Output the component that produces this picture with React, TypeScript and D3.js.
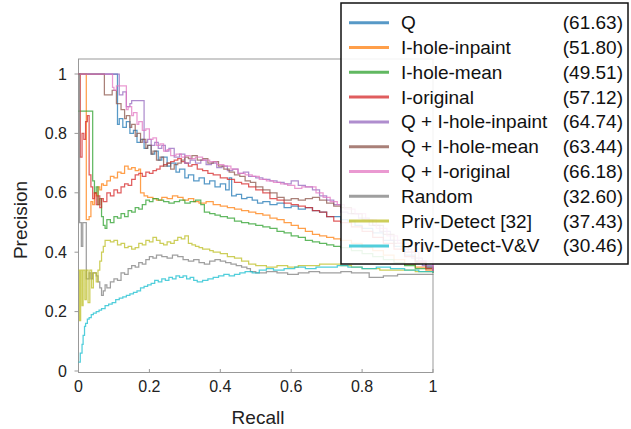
import React from "react";
import * as d3 from "d3";

type P = [number, number];

const seriesNames = [
  "Q",
  "I-hole-inpaint",
  "I-hole-mean",
  "I-original",
  "Q + I-hole-inpaint",
  "Q + I-hole-mean",
  "Q + I-original",
  "Random",
  "Priv-Detect [32]",
  "Priv-Detect-V&V",
];
const apValues = ["(61.63)", "(51.80)", "(49.51)", "(57.12)", "(64.74)", "(63.44)", "(66.18)", "(32.60)", "(37.43)", "(30.46)"];
const colors = ["#1f77b4", "#ff7f0e", "#2ca02c", "#d62728", "#9467bd", "#8c564b", "#e377c2", "#7f7f7f", "#bcbd22", "#17becf"];

const xTicks = [0, 0.2, 0.4, 0.6, 0.8, 1];
const yTicks = [0, 0.2, 0.4, 0.6, 0.8, 1];

const qData: P[] = [[0,1],[0.11,0.83],[0.115,0.85],[0.125,0.82],[0.135,0.84],[0.145,0.80],[0.155,0.81],[0.165,0.77],[0.175,0.78],[0.185,0.75],[0.195,0.76],[0.205,0.73],[0.215,0.74],[0.225,0.71],[0.235,0.72],[0.25,0.69],[0.26,0.70],[0.275,0.67],[0.285,0.68],[0.30,0.65],[0.31,0.66],[0.325,0.64],[0.34,0.65],[0.355,0.63],[0.37,0.64],[0.385,0.62],[0.40,0.63],[0.415,0.61],[0.425,0.65],[0.432,0.59],[0.445,0.595],[0.46,0.58],[0.475,0.585],[0.49,0.575],[0.505,0.565],[0.52,0.57],[0.54,0.56],[0.56,0.565],[0.58,0.55],[0.60,0.555],[0.62,0.545],[0.64,0.55],[0.66,0.54],[0.68,0.535],[0.70,0.52],[0.72,0.52],[0.74,0.51],[0.76,0.505],[0.78,0.49],[0.80,0.48],[0.83,0.465],[0.86,0.44],[0.89,0.42],[0.92,0.39],[0.95,0.37],[0.98,0.35],[1.0,0.33]];

const inpaintData: P[] = [[0,1],[0.022,0.51],[0.03,0.52],[0.035,0.57],[0.04,0.56],[0.045,0.60],[0.05,0.59],[0.055,0.62],[0.06,0.61],[0.065,0.63],[0.07,0.625],[0.08,0.64],[0.09,0.655],[0.10,0.65],[0.11,0.67],[0.12,0.665],[0.13,0.69],[0.14,0.68],[0.15,0.685],[0.16,0.675],[0.17,0.68],[0.175,0.60],[0.185,0.59],[0.195,0.585],[0.21,0.58],[0.22,0.575],[0.235,0.585],[0.25,0.58],[0.265,0.59],[0.28,0.585],[0.295,0.575],[0.31,0.58],[0.325,0.57],[0.34,0.565],[0.36,0.57],[0.38,0.56],[0.40,0.555],[0.42,0.55],[0.44,0.545],[0.46,0.54],[0.48,0.535],[0.50,0.53],[0.52,0.525],[0.54,0.515],[0.56,0.51],[0.58,0.50],[0.60,0.49],[0.62,0.48],[0.64,0.47],[0.66,0.46],[0.68,0.455],[0.70,0.45],[0.72,0.445],[0.74,0.44],[0.77,0.43],[0.80,0.415],[0.83,0.405],[0.86,0.39],[0.89,0.375],[0.92,0.36],[0.95,0.35],[0.98,0.34],[1.0,0.33]];

const meanData: P[] = [[0,0.875],[0.04,0.64],[0.045,0.60],[0.05,0.62],[0.055,0.56],[0.06,0.58],[0.065,0.52],[0.07,0.49],[0.075,0.48],[0.08,0.51],[0.09,0.50],[0.10,0.52],[0.11,0.515],[0.12,0.53],[0.13,0.52],[0.14,0.54],[0.15,0.535],[0.16,0.55],[0.17,0.545],[0.18,0.56],[0.19,0.575],[0.20,0.57],[0.21,0.58],[0.225,0.575],[0.24,0.57],[0.255,0.565],[0.27,0.57],[0.285,0.575],[0.30,0.565],[0.315,0.57],[0.33,0.575],[0.345,0.56],[0.355,0.535],[0.37,0.53],[0.385,0.525],[0.40,0.52],[0.42,0.515],[0.44,0.505],[0.46,0.50],[0.48,0.495],[0.50,0.49],[0.52,0.485],[0.54,0.48],[0.56,0.47],[0.58,0.465],[0.60,0.455],[0.62,0.45],[0.64,0.44],[0.66,0.435],[0.68,0.43],[0.70,0.425],[0.72,0.42],[0.74,0.415],[0.77,0.405],[0.80,0.395],[0.83,0.385],[0.86,0.375],[0.89,0.365],[0.92,0.355],[0.95,0.345],[1.0,0.335]];

const originalData: P[] = [[0,1],[0.005,0.72],[0.01,0.80],[0.015,0.78],[0.02,0.84],[0.025,0.86],[0.03,0.66],[0.035,0.62],[0.04,0.58],[0.045,0.60],[0.05,0.56],[0.055,0.59],[0.06,0.55],[0.065,0.58],[0.07,0.57],[0.08,0.60],[0.09,0.59],[0.10,0.61],[0.11,0.60],[0.12,0.62],[0.13,0.63],[0.14,0.625],[0.15,0.645],[0.16,0.66],[0.17,0.665],[0.18,0.655],[0.19,0.67],[0.20,0.665],[0.21,0.675],[0.22,0.68],[0.23,0.69],[0.24,0.695],[0.25,0.70],[0.26,0.705],[0.27,0.71],[0.28,0.715],[0.29,0.705],[0.30,0.70],[0.31,0.69],[0.32,0.695],[0.335,0.68],[0.35,0.675],[0.365,0.665],[0.38,0.66],[0.40,0.65],[0.42,0.645],[0.44,0.635],[0.46,0.63],[0.48,0.62],[0.50,0.61],[0.52,0.60],[0.54,0.58],[0.56,0.575],[0.58,0.565],[0.60,0.56],[0.62,0.555],[0.64,0.55],[0.66,0.54],[0.68,0.535],[0.70,0.52],[0.72,0.505],[0.74,0.50],[0.77,0.485],[0.80,0.47],[0.83,0.45],[0.86,0.43],[0.89,0.41],[0.92,0.385],[0.95,0.365],[0.98,0.345],[1.0,0.335]];

const qInpaintData: P[] = [[0,1],[0.10,1],[0.115,0.93],[0.125,0.94],[0.135,0.89],[0.145,0.90],[0.15,0.91],[0.185,0.77],[0.195,0.78],[0.205,0.76],[0.215,0.77],[0.225,0.75],[0.235,0.76],[0.245,0.74],[0.255,0.75],[0.27,0.72],[0.285,0.73],[0.30,0.70],[0.315,0.71],[0.33,0.70],[0.345,0.71],[0.36,0.695],[0.375,0.70],[0.39,0.685],[0.405,0.69],[0.42,0.675],[0.435,0.68],[0.45,0.665],[0.465,0.67],[0.48,0.655],[0.50,0.65],[0.52,0.645],[0.54,0.64],[0.56,0.635],[0.58,0.63],[0.60,0.64],[0.62,0.625],[0.64,0.62],[0.66,0.61],[0.68,0.59],[0.70,0.575],[0.72,0.56],[0.74,0.535],[0.76,0.53],[0.79,0.515],[0.82,0.49],[0.85,0.47],[0.88,0.44],[0.91,0.41],[0.94,0.38],[0.97,0.355],[1.0,0.335]];

const qMeanData: P[] = [[0,1],[0.073,0.93],[0.095,0.945],[0.107,0.90],[0.12,0.88],[0.13,0.85],[0.135,0.86],[0.145,0.82],[0.15,0.83],[0.16,0.79],[0.165,0.80],[0.175,0.77],[0.18,0.78],[0.19,0.75],[0.195,0.76],[0.205,0.73],[0.21,0.74],[0.22,0.71],[0.23,0.72],[0.24,0.69],[0.25,0.70],[0.26,0.68],[0.27,0.695],[0.28,0.70],[0.29,0.71],[0.30,0.72],[0.31,0.715],[0.32,0.725],[0.335,0.71],[0.35,0.715],[0.365,0.70],[0.38,0.705],[0.395,0.69],[0.41,0.68],[0.425,0.67],[0.44,0.66],[0.455,0.655],[0.47,0.64],[0.485,0.635],[0.50,0.62],[0.52,0.61],[0.54,0.60],[0.56,0.585],[0.58,0.575],[0.60,0.58],[0.62,0.575],[0.64,0.58],[0.66,0.585],[0.68,0.575],[0.70,0.565],[0.72,0.555],[0.74,0.55],[0.77,0.53],[0.80,0.51],[0.83,0.49],[0.86,0.46],[0.89,0.43],[0.92,0.40],[0.95,0.37],[0.98,0.35],[1.0,0.33]];

const qOriginalData: P[] = [[0,1],[0.096,0.955],[0.10,0.945],[0.107,0.96],[0.135,0.88],[0.14,0.89],[0.15,0.86],[0.155,0.87],[0.165,0.83],[0.17,0.84],[0.18,0.81],[0.19,0.815],[0.20,0.78],[0.21,0.785],[0.22,0.76],[0.23,0.765],[0.24,0.74],[0.25,0.745],[0.26,0.725],[0.275,0.73],[0.29,0.72],[0.30,0.725],[0.315,0.715],[0.33,0.72],[0.35,0.71],[0.37,0.705],[0.39,0.695],[0.41,0.69],[0.43,0.68],[0.45,0.665],[0.47,0.66],[0.49,0.655],[0.51,0.645],[0.53,0.64],[0.55,0.635],[0.57,0.63],[0.59,0.625],[0.61,0.615],[0.63,0.62],[0.65,0.62],[0.67,0.60],[0.69,0.585],[0.71,0.57],[0.73,0.56],[0.75,0.545],[0.78,0.53],[0.81,0.51],[0.84,0.48],[0.87,0.455],[0.90,0.43],[0.93,0.40],[0.96,0.37],[1.0,0.335]];

const randomData: P[] = [[0,1],[0.003,0.5],[0.008,0.42],[0.012,0.5],[0.022,0.31],[0.03,0.33],[0.035,0.31],[0.04,0.33],[0.05,0.32],[0.055,0.30],[0.06,0.28],[0.065,0.255],[0.07,0.27],[0.075,0.29],[0.08,0.28],[0.09,0.30],[0.10,0.31],[0.11,0.305],[0.12,0.33],[0.13,0.325],[0.14,0.345],[0.15,0.355],[0.16,0.35],[0.17,0.365],[0.18,0.36],[0.19,0.375],[0.20,0.385],[0.21,0.38],[0.22,0.39],[0.235,0.385],[0.25,0.38],[0.265,0.39],[0.28,0.385],[0.295,0.375],[0.31,0.37],[0.325,0.375],[0.34,0.365],[0.355,0.36],[0.37,0.37],[0.385,0.375],[0.40,0.37],[0.415,0.365],[0.43,0.36],[0.445,0.355],[0.46,0.35],[0.475,0.345],[0.485,0.335],[0.50,0.33],[0.53,0.335],[0.56,0.33],[0.59,0.325],[0.62,0.33],[0.65,0.335],[0.68,0.33],[0.71,0.33],[0.74,0.335],[0.77,0.33],[0.81,0.33],[0.82,0.315],[0.86,0.32],[0.90,0.325],[0.94,0.325],[1.0,0.326]];

const privData: P[] = [[0,0.34],[0.003,0.17],[0.006,0.34],[0.01,0.22],[0.013,0.34],[0.018,0.24],[0.022,0.34],[0.027,0.23],[0.032,0.34],[0.037,0.28],[0.042,0.33],[0.05,0.30],[0.055,0.34],[0.06,0.37],[0.065,0.40],[0.07,0.42],[0.075,0.44],[0.09,0.435],[0.10,0.44],[0.11,0.425],[0.12,0.43],[0.13,0.415],[0.14,0.42],[0.15,0.41],[0.16,0.415],[0.17,0.43],[0.18,0.425],[0.19,0.44],[0.20,0.435],[0.21,0.45],[0.22,0.44],[0.23,0.43],[0.24,0.425],[0.25,0.435],[0.26,0.43],[0.27,0.44],[0.28,0.45],[0.29,0.445],[0.30,0.455],[0.31,0.43],[0.32,0.425],[0.33,0.42],[0.34,0.415],[0.35,0.41],[0.36,0.41],[0.37,0.405],[0.38,0.40],[0.39,0.40],[0.40,0.395],[0.42,0.385],[0.44,0.38],[0.46,0.37],[0.48,0.36],[0.50,0.355],[0.53,0.35],[0.56,0.355],[0.59,0.35],[0.62,0.355],[0.65,0.355],[0.68,0.36],[0.71,0.36],[0.74,0.355],[0.77,0.35],[0.80,0.345],[0.85,0.34],[0.90,0.34],[0.95,0.335],[1.0,0.33]];

const vvData: P[] = [[0,0.03],[0.005,0.06],[0.01,0.09],[0.013,0.12],[0.017,0.15],[0.02,0.16],[0.025,0.175],[0.03,0.18],[0.036,0.19],[0.042,0.195],[0.05,0.20],[0.058,0.205],[0.065,0.21],[0.075,0.22],[0.085,0.225],[0.095,0.23],[0.105,0.24],[0.115,0.245],[0.125,0.25],[0.135,0.255],[0.145,0.26],[0.155,0.265],[0.165,0.27],[0.175,0.28],[0.185,0.285],[0.195,0.29],[0.205,0.295],[0.215,0.305],[0.225,0.30],[0.235,0.31],[0.245,0.305],[0.255,0.315],[0.265,0.31],[0.275,0.32],[0.285,0.315],[0.295,0.32],[0.305,0.31],[0.315,0.315],[0.325,0.305],[0.335,0.30],[0.35,0.305],[0.365,0.31],[0.38,0.315],[0.395,0.32],[0.41,0.325],[0.425,0.32],[0.44,0.325],[0.455,0.33],[0.47,0.335],[0.49,0.33],[0.51,0.34],[0.53,0.345],[0.55,0.34],[0.58,0.345],[0.61,0.35],[0.64,0.345],[0.67,0.35],[0.70,0.35],[0.73,0.355],[0.76,0.35],[0.80,0.345],[0.84,0.35],[0.88,0.345],[0.92,0.34],[0.96,0.335],[1.0,0.33]];

const allSeries: P[][] = [qData, inpaintData, meanData, originalData, qInpaintData, qMeanData, qOriginalData, randomData, privData, vvData];

const W = 631;
const H = 429;
const FONT = "Arial, 'Liberation Sans', Helvetica, sans-serif";

export default function App() {
  const x = d3.scaleLinear().domain([0, 1]).range([78.5, 433]);
  const y = d3.scaleLinear().domain([0, 1.05]).range([371, 59.15]);
  const line = d3
    .line<P>()
    .x((d) => x(d[0]))
    .y((d) => y(d[1]))
    .curve(d3.curveStepAfter);

  const legX = 341;
  const legY = 3;
  const legW = 287;
  const legH = 261;
  const rowH = 24.8;
  const row0 = 22.7;

  return (
    <div style={{ position: "fixed", left: 0, top: 0 }}>
      <svg width={W} height={H} style={{ display: "block", background: "#fff" }} fontFamily={FONT}>
        <rect x={0} y={0} width={W} height={H} fill="#fff" />
        <rect x={x(0)} y={59} width={x(1) - x(0)} height={372.5 - 59} fill="none" stroke="#999" strokeWidth={1} />
        {yTicks.map((t) => (
          <g key={"y" + t}>
            <line x1={x(0) - 4} x2={x(0)} y1={y(t)} y2={y(t)} stroke="#999" />
            <text x={67} y={y(t)} textAnchor="end" dominantBaseline="central" fontSize={16} fill="#222">
              {String(t)}
            </text>
          </g>
        ))}
        {xTicks.map((t) => (
          <g key={"x" + t}>
            <line x1={x(t)} x2={x(t)} y1={372.5} y2={369} stroke="#999" />
            <text x={x(t)} y={392} textAnchor="middle" fontSize={16} fill="#222">
              {String(t)}
            </text>
          </g>
        ))}
        <text x={258} y={424} textAnchor="middle" fontSize={19} fill="#222">
          Recall
        </text>
        <text transform={`translate(27,220) rotate(-90)`} textAnchor="middle" fontSize={19} fill="#222">
          Precision
        </text>
        <g>
          {allSeries.map((s, i) => (
            <path key={i} d={line(s) || ""} fill="none" stroke={colors[i]} strokeOpacity={0.75} strokeWidth={1.25} />
          ))}
        </g>
        <rect x={legX} y={legY} width={legW} height={legH} fill="#fff" fillOpacity={0.88} stroke="#111" strokeWidth={1.5} />
        {seriesNames.map((n, i) => {
          const cy = legY + row0 + i * rowH - 3;
          return (
            <g key={n}>
              <line x1={349} x2={389} y1={cy} y2={cy} stroke={colors[i]} strokeOpacity={0.75} strokeWidth={3} />
              <text x={401} y={cy} dominantBaseline="central" fontSize={19} fill="#111">
                {n}
              </text>
              <text x={623} y={cy} dominantBaseline="central" textAnchor="end" fontSize={19} fill="#111">
                {apValues[i]}
              </text>
            </g>
          );
        })}
      </svg>
    </div>
  );
}
